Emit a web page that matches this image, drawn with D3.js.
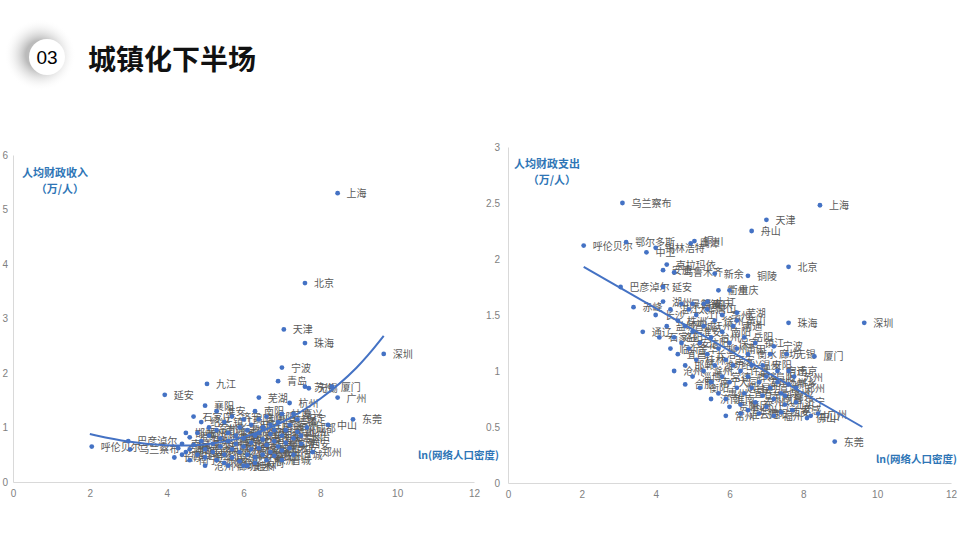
<!DOCTYPE html>
<html><head><meta charset="utf-8">
<script src="https://cdn.jsdelivr.net/npm/d3@7"></script>
<style>body{margin:0;background:#fff;font-family:"Noto Sans CJK SC","Noto Sans",sans-serif}</style>
</head><body><svg id="c" width="960" height="540"></svg>
<script>
const xTicks=[0,2,4,6,8,10,12];
const yTicksL=[0,1,2,3,4,5,6];
const yTicksR=[0,0.5,1,1.5,2,2.5,3];
const namedL=[["上海",8.45,5.3],["北京",7.6,3.65],["天津",7.05,2.8],["珠海",7.6,2.55],["深圳",9.65,2.35],["宁波",7.0,2.1],["青岛",6.9,1.85],["九江",5.05,1.8],["延安",3.95,1.6],["厦门",8.3,1.75],["广州",8.45,1.55],["东莞",8.85,1.15],["成都",7.65,1.0],["中山",8.2,1.05],["西安",7.5,0.7],["郑州",7.8,0.55],["呼伦贝尔",2.05,0.65],["巴彦淖尔",3.0,0.75],["乌兰察布",3.05,0.6],["襄阳",5.0,1.4],["杭州",7.2,1.45],["嘉兴",7.3,1.25],["苏州",7.6,1.75],["芜湖",6.4,1.55],["无锡",7.7,1.72]];
const clusterL=[[4.2,0.45],[4.3,0.62],[4.4,0.7],[4.5,0.55],[4.6,0.82],[4.6,0.4],[4.7,0.68],[4.7,1.2],[4.8,0.5],[4.8,0.9],[4.9,0.75],[4.9,1.1],[5.0,0.6],[5.0,0.45],[5.1,0.85],[5.1,1.0],[5.2,0.55],[5.2,0.7],[5.3,0.95],[5.3,0.4],[5.3,1.3],[5.4,0.65],[5.4,0.8],[5.5,0.5],[5.5,1.1],[5.5,0.35],[5.6,0.75],[5.6,0.9],[5.7,0.6],[5.7,1.2],[5.7,0.45],[5.8,0.85],[5.8,0.7],[5.9,1.0],[5.9,0.55],[5.9,0.38],[6.0,0.8],[6.0,0.65],[6.0,1.15],[6.1,0.5],[6.1,0.95],[6.1,0.3],[6.2,0.72],[6.2,1.05],[6.2,0.6],[6.3,0.85],[6.3,0.45],[6.3,1.3],[6.4,0.9],[6.4,0.62],[6.4,1.15],[6.5,0.5],[6.5,0.78],[6.5,1.0],[6.6,0.68],[6.6,1.2],[6.6,0.4],[6.7,0.88],[6.7,0.55],[6.7,1.05],[6.8,0.75],[6.8,0.95],[6.8,0.48],[6.9,1.1],[6.9,0.65],[7.0,0.85],[7.0,0.58],[7.0,1.25],[7.1,0.72],[7.1,0.95],[7.2,0.62],[7.2,1.05],[7.3,0.8],[7.3,0.5],[7.4,0.92],[7.4,1.15],[4.4,0.5],[4.5,0.9],[4.6,0.6],[5.0,0.3],[5.6,0.3],[6.0,0.3],[6.3,0.35],[7.5,0.85],[7.0,0.4]];
const trendL=[[2,0.88],[3,0.73],[4,0.66],[5,0.67],[6,0.8],[7,1.07],[8,1.5],[9,2.1],[9.65,2.68]];
const namedR=[["乌兰察布",3.1,2.5],["上海",8.45,2.48],["天津",7.0,2.35],["舟山",6.6,2.25],["呼伦贝尔",2.05,2.12],["鄂尔多斯",3.2,2.15],["中卫",3.75,2.06],["锡林浩特",4.0,2.1],["鹰潭",4.95,2.14],["铜川",5.05,2.16],["北京",7.6,1.93],["新余",5.6,1.87],["铜陵",6.5,1.85],["克拉玛依",4.3,1.95],["安康",4.2,1.9],["乌鲁木齐",4.5,1.88],["巴彦淖尔",3.05,1.75],["延安",4.2,1.75],["衢州",5.7,1.72],["重庆",6.0,1.72],["赤峰",3.4,1.57],["通辽",3.65,1.35],["珠海",7.6,1.43],["深圳",9.65,1.43],["宁波",7.2,1.22],["无锡",7.55,1.15],["厦门",8.3,1.13],["南京",7.6,1.0],["苏州",7.75,0.95],["郑州",7.8,0.85],["嘉兴",7.5,0.78],["东莞",8.85,0.37],["广州",8.4,0.62],["中山",8.2,0.6],["佛山",8.1,0.58],["西安",7.4,0.63],["芜湖",6.2,1.52],["九江",5.4,1.62],["黄山",6.2,1.45]];
const clusterR=[[4.0,1.5],[4.1,1.3],[4.2,1.62],[4.3,1.4],[4.4,1.2],[4.4,1.55],[4.5,1.3],[4.6,1.15],[4.6,1.45],[4.7,1.6],[4.7,1.25],[4.8,1.05],[4.8,1.4],[4.9,1.55],[4.9,1.2],[5.0,1.35],[5.0,0.95],[5.1,1.5],[5.1,1.1],[5.2,1.25],[5.2,0.85],[5.3,1.4],[5.3,1.0],[5.4,1.55],[5.4,1.15],[5.5,0.9],[5.5,1.3],[5.6,1.45],[5.6,1.05],[5.7,0.8],[5.7,1.2],[5.8,1.35],[5.8,0.95],[5.9,1.1],[5.9,0.75],[6.0,1.25],[6.0,0.9],[6.0,0.68],[6.1,1.05],[6.1,1.4],[6.2,0.85],[6.2,1.2],[6.3,0.7],[6.3,1.0],[6.4,1.3],[6.4,0.8],[6.5,0.95],[6.5,0.65],[6.5,1.15],[6.6,0.85],[6.6,1.05],[6.7,0.72],[6.7,1.25],[6.8,0.9],[6.8,0.62],[6.9,1.05],[6.9,0.78],[7.0,0.68],[7.0,0.95],[7.1,0.85],[7.1,1.15],[7.2,0.75],[7.2,0.6],[7.3,0.9],[7.3,1.0],[7.4,0.8],[7.5,0.7],[7.6,0.88],[7.7,0.65],[5.0,1.6],[5.3,1.6],[5.8,1.5],[4.5,1.0],[4.8,0.88],[5.5,0.75],[5.9,0.6],[6.3,0.62],[7.8,0.72]];
const trendR=[[2.05,1.93],[9.6,0.5]];
const clusterNames=["长沙","合肥","南昌","昆明","贵阳","南宁","太原","石家庄","济南","福州","温州","绍兴","台州","金华","湖州","常州","扬州","泰州","南通","徐州","淮安","盐城","连云港","宿迁","镇江","烟台","潍坊","淄博","临沂","济宁","泉州","漳州","莆田","惠州","江门","湛江","茂名","汕头","揭阳","肇庆","柳州","桂林","洛阳","开封","新乡","安阳","许昌","南阳","信阳","宜昌","荆州","孝感","黄冈","岳阳","常德","衡阳","株洲","湘潭","赣州","上饶","宜春","吉安","抚州","景德镇","萍乡","安庆","阜阳","蚌埠","淮南","滁州","六安","宿州","亳州","宣城","池州","保定","唐山","邯郸","邢台","沧州","廊坊","衡水","大同","长治","晋城"];

const svg=d3.select("#c");
const defs=svg.append("defs");
const rg=defs.append("radialGradient").attr("id","sh");
rg.append("stop").attr("offset","40%").attr("stop-color","#bbb");
rg.append("stop").attr("offset","100%").attr("stop-color","#fff").attr("stop-opacity",0);
svg.append("circle").attr("cx",40).attr("cy",55).attr("r",36).attr("fill","url(#sh)");
svg.append("circle").attr("cx",47).attr("cy",57).attr("r",18).attr("fill","#fff");
svg.append("text").attr("x",47).attr("y",64).attr("text-anchor","middle").attr("font-size",19).attr("font-family","Liberation Sans, Arial").text("03");
svg.append("text").attr("x",88).attr("y",70).attr("font-size",28).attr("font-weight","bold").attr("fill","#111").text("城镇化下半场");

function chart(cfg){
  const x=d3.scaleLinear().domain([0,12]).range(cfg.xr);
  const y=d3.scaleLinear().domain(cfg.yd).range(cfg.yr);
  const g=svg.append("g");
  const ax=g.append("g").attr("transform",`translate(0,${cfg.yr[0]})`).call(d3.axisBottom(x).tickValues(xTicks).tickSize(0).tickPadding(8));
  const ay=g.append("g").attr("transform",`translate(${cfg.xr[0]},0)`).call(d3.axisLeft(y).tickValues(cfg.yt).tickFormat(d3.format("~g")).tickSize(0).tickPadding(cfg.pad));
  [ax,ay].forEach(a=>{a.select(".domain").attr("stroke","#d9d9d9");a.selectAll("text").attr("fill","#7f7f7f").attr("font-size",10).attr("font-family","Liberation Sans, Arial");});
  const all=cfg.named.map(d=>({n:d[0],x:d[1],y:d[2]})).concat(cfg.cluster.map((d,i)=>({n:clusterNames[(i*cfg.step)%clusterNames.length],x:d[0],y:d[1]})));
  g.selectAll(".lb").data(all).join("text").attr("x",d=>x(d.x)+9).attr("y",d=>y(d.y)+4).attr("font-size",10).attr("fill","#595959").text(d=>d.n);
  g.selectAll(".pt").data(all).join("circle").attr("cx",d=>x(d.x)).attr("cy",d=>y(d.y)).attr("r",2.4).attr("fill","#4472c4");
  g.append("path").datum(cfg.trend).attr("fill","none").attr("stroke","#4472c4").attr("stroke-width",2)
    .attr("d",d3.line().x(d=>x(d[0])).y(d=>y(d[1])).curve(d3.curveBasis));
  const t=g.append("text").attr("fill","#2e75b6").attr("font-size",11).attr("font-weight","bold").attr("text-anchor","middle");
  t.append("tspan").attr("x",cfg.tt[0]).attr("y",cfg.tt[1]).text(cfg.title);
  t.append("tspan").attr("x",cfg.tt[0]+5).attr("y",cfg.tt[1]+16).text("（万/人）");
  g.append("text").attr("x",cfg.xt[0]).attr("y",cfg.xt[1]).attr("fill","#2e75b6").attr("font-size",10.5).attr("font-weight","bold").text("ln(网络人口密度)");
}
chart({xr:[13,474],yd:[0,6],yr:[482,155],yt:yTicksL,pad:5,named:namedL,cluster:clusterL,trend:trendL,step:1,title:"人均财政收入",tt:[55,177],xt:[418,459]});
chart({xr:[508,951],yd:[0,3],yr:[483,147],yt:yTicksR,pad:8,named:namedR,cluster:clusterR,trend:trendR,step:7,title:"人均财政支出",tt:[547,168],xt:[876,463]});
</script></body></html>
